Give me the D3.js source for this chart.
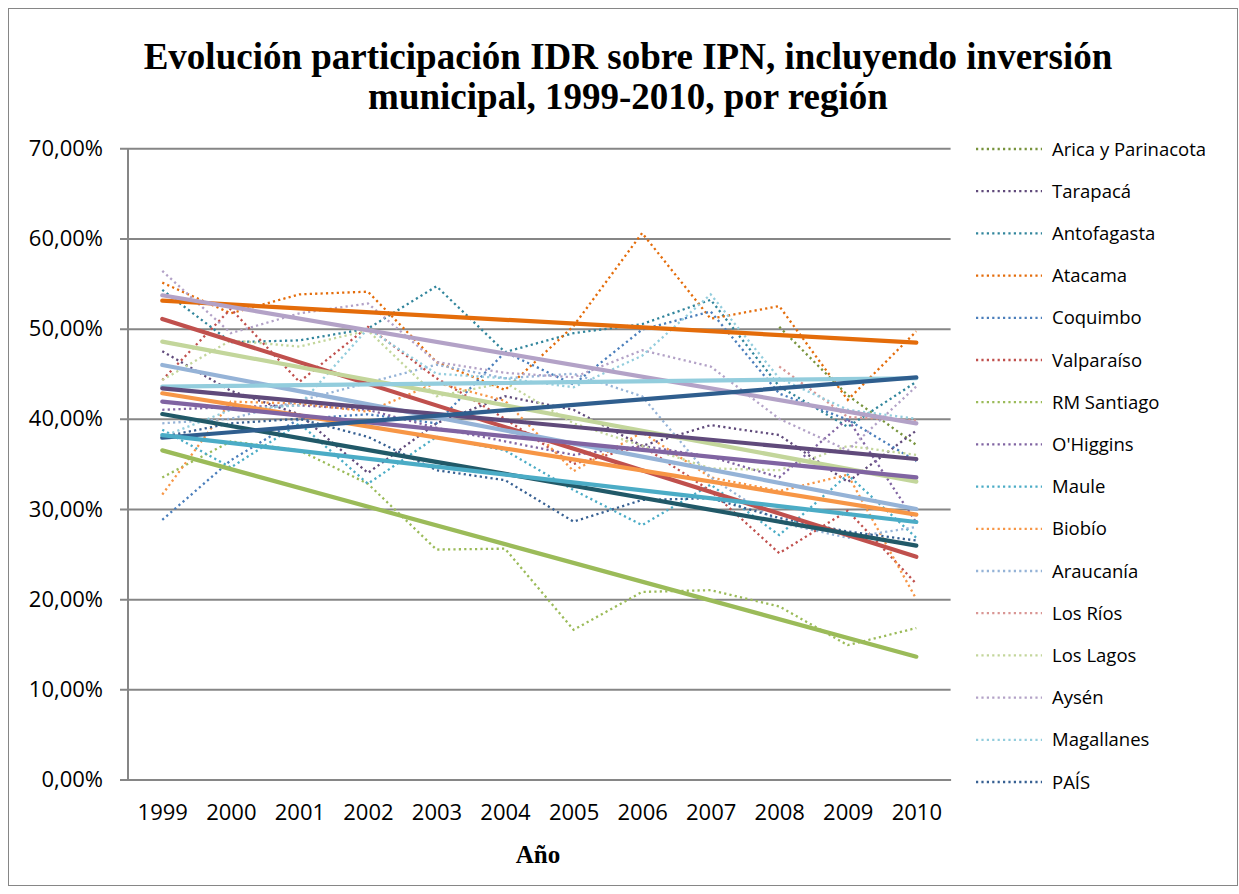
<!DOCTYPE html>
<html><head><meta charset="utf-8">
<script src="https://cdn.jsdelivr.net/npm/d3@7"></script>
<style>
html,body{margin:0;padding:0;background:#fff;}
svg{display:block;}
</style>
</head><body>
<svg id="chart" width="1239" height="894"></svg>
<script>
// ---------- DATA ----------
const years = [1999,2000,2001,2002,2003,2004,2005,2006,2007,2008,2009,2010];
const regions = ["Arica y Parinacota","Tarapacá","Antofagasta","Atacama","Coquimbo","Valparaíso","RM Santiago","O'Higgins","Maule","Biobío","Araucanía","Los Ríos","Los Lagos","Aysén","Magallanes","PAÍS"];
const arica       = [null,null,null,null,null,null,null,null,null,50.2,42.6,37.1];
const tarapaca    = [47.5,43.1,40.5,34.0,39.5,42.5,41.0,37.0,39.3,38.2,33.0,38.7];
const antofagasta = [54.3,48.5,48.7,50.0,54.7,47.4,49.5,50.5,53.2,43.6,39.1,44.1];
const atacama     = [55.1,51.7,53.8,54.1,46.3,43.2,50.3,60.6,51.1,52.5,42.1,49.7];
const coquimbo    = [28.8,35.4,40.0,40.5,39.5,47.4,43.8,49.9,51.9,42.8,39.9,35.3];
const valparaiso  = [44.3,52.2,44.1,50.2,44.5,40.0,35.0,37.0,32.0,25.1,29.8,21.7];
const santiago    = [33.5,37.5,36.5,32.8,25.5,25.6,16.6,20.8,21.0,19.2,14.9,16.8];
const ohiggins    = [41.0,41.3,41.5,41.0,39.0,37.5,36.0,37.0,35.8,33.5,40.0,28.5];
const maule       = [38.8,34.6,39.5,32.8,38.0,36.5,32.1,28.2,32.7,27.1,33.8,26.8];
const biobio      = [31.6,41.9,41.7,40.8,44.0,42.0,34.2,38.5,33.5,32.0,33.8,20.0];
const araucania   = [39.5,40.0,42.0,44.0,46.0,44.5,45.0,42.5,33.5,28.5,26.8,28.0];
const losRios     = [null,null,null,null,null,null,null,null,null,45.8,40.2,39.8];
const losLagos    = [44.3,48.7,48.0,49.8,42.5,44.0,39.5,37.0,34.5,34.3,37.0,36.0];
const aysen       = [56.4,49.5,51.7,52.8,46.3,45.1,44.6,47.6,45.8,40.0,36.5,43.6];
const magallanes  = [38.0,41.0,41.5,50.0,45.0,44.5,43.5,47.0,53.8,44.5,41.0,40.0];
const pais        = [38.0,39.5,40.0,38.0,34.3,33.2,28.6,31.0,31.2,29.0,27.5,26.5];
const seriesValues = [arica,tarapaca,antofagasta,atacama,coquimbo,valparaiso,santiago,ohiggins,maule,biobio,araucania,losRios,losLagos,aysen,magallanes,pais];

// linear trend lines (value at 1999 and at 2010)
const trendRegions = ["Atacama","Aysén","Valparaíso","Los Lagos","Araucanía","Magallanes","Tarapacá","Biobío","O'Higgins","PAÍS","Coquimbo","Maule","RM Santiago"];
const trendStart   = [53.1,53.7,51.07,48.56,45.97,43.56,43.38,42.83,41.9,40.53,37.9,38.2,36.5];
const trendEnd     = [48.44,39.5,24.7,33.03,30.0,44.5,35.54,29.37,33.5,25.93,44.6,28.56,13.62];

const yTicks = [0,10,20,30,40,50,60,70];

// ---------- STYLE ----------
const colors = {
 "Arica y Parinacota":"#77933C","Tarapacá":"#604A7B","Antofagasta":"#31859C","Atacama":"#E46C0A",
 "Coquimbo":"#4A7EBB","Valparaíso":"#C0504D","RM Santiago":"#9BBB59","O'Higgins":"#8064A2",
 "Maule":"#4BACC6","Biobío":"#F79646","Araucanía":"#95B3D7","Los Ríos":"#D99694",
 "Los Lagos":"#C3D69B","Aysén":"#B3A2C7","Magallanes":"#93CDDD","PAÍS":"#376092"};
const trendColors = Object.assign({}, colors, {"PAÍS":"#215968","Coquimbo":"#2F5E8E"});

const svg = d3.select("#chart");
const plot = {left:128, right:950.6, top:148.3, bottom:779.5};
const sans = "Open Sans, Liberation Sans, sans-serif";
const serif = "Liberation Serif, DejaVu Serif, serif";

// chart border
svg.append("rect").attr("x",8.5).attr("y",8.5).attr("width",1229).attr("height",877)
  .attr("fill","#fff").attr("stroke","#868686").attr("stroke-width",1);

// title
const title = svg.append("text").attr("text-anchor","middle")
  .attr("font-family",serif).attr("font-weight","bold")
  .attr("font-size",37).attr("fill","#000");
title.append("tspan").attr("x",628).attr("y",69).text("Evolución participación IDR sobre IPN, incluyendo inversión");
title.append("tspan").attr("x",628).attr("y",109).text("municipal, 1999-2010, por región");

// scales
const x = d3.scalePoint().domain(years).range([plot.left, plot.right]).padding(0.5);
const y = d3.scaleLinear().domain([0,70]).range([plot.bottom, plot.top]);

const loc = d3.formatLocale({decimal:",",thousands:".",grouping:[3],currency:["","€"]});
const fmt = loc.format(".2f");

// gridlines + y axis
const yAxis = d3.axisLeft(y).tickValues(yTicks).tickSize(-(plot.right-plot.left)).tickPadding(25)
  .tickFormat(d => fmt(d) + "%");
const gy = svg.append("g").attr("transform",`translate(${plot.left},0)`).call(yAxis);
gy.select(".domain").remove();
gy.selectAll(".tick line").attr("stroke","#868686").attr("stroke-width",2).attr("x1",-8);
gy.selectAll(".tick text").attr("font-family",sans).attr("font-size",22).attr("fill","#000");
svg.append("line").attr("x1",plot.left).attr("x2",plot.left).attr("y1",plot.top).attr("y2",plot.bottom)
  .attr("stroke","#868686").attr("stroke-width",2);

// x axis
const xAxis = d3.axisBottom(x).tickSize(0).tickPadding(25);
const gx = svg.append("g").attr("transform",`translate(0,${plot.bottom})`).call(xAxis);
gx.select(".domain").attr("stroke","#868686").attr("stroke-width",2);
gx.selectAll(".tick text").attr("font-family",sans).attr("font-size",22).attr("fill","#000");

svg.append("text").attr("x",538).attr("y",863).attr("text-anchor","middle")
  .attr("font-family",serif).attr("font-weight","bold").attr("font-size",25).text("Año");

// dotted series
const line = d3.line().defined(d => d.v != null).x(d => x(d.year)).y(d => y(d.v));
regions.forEach((name,i) => {
  const pts = years.map((yr,j) => ({year:yr, v:seriesValues[i][j]}));
  svg.append("path").datum(pts).attr("d",line).attr("fill","none")
    .attr("stroke",colors[name]).attr("stroke-width",2.3)
    .attr("stroke-dasharray","2.2,3.2");
});

// trend lines
trendRegions.forEach((name,i) => {
  const pts = [{year:years[0], v:trendStart[i]},{year:years[years.length-1], v:trendEnd[i]}];
  svg.append("path").datum(pts).attr("d",line).attr("fill","none")
    .attr("stroke",trendColors[name]).attr("stroke-width",4.2).attr("stroke-linecap","round");
});

// legend
const lg = svg.append("g");
regions.forEach((name,i) => {
  const yy = 149 + i*42.2;
  lg.append("line").attr("x1",976).attr("x2",1042).attr("y1",yy).attr("y2",yy)
    .attr("stroke",colors[name]).attr("stroke-width",2.3).attr("stroke-dasharray","2.2,3.2");
  lg.append("text").attr("x",1052).attr("y",yy+6.5).attr("font-family",sans)
    .attr("font-size",18.5).attr("fill","#000").text(name);
});
</script>
</body></html>
